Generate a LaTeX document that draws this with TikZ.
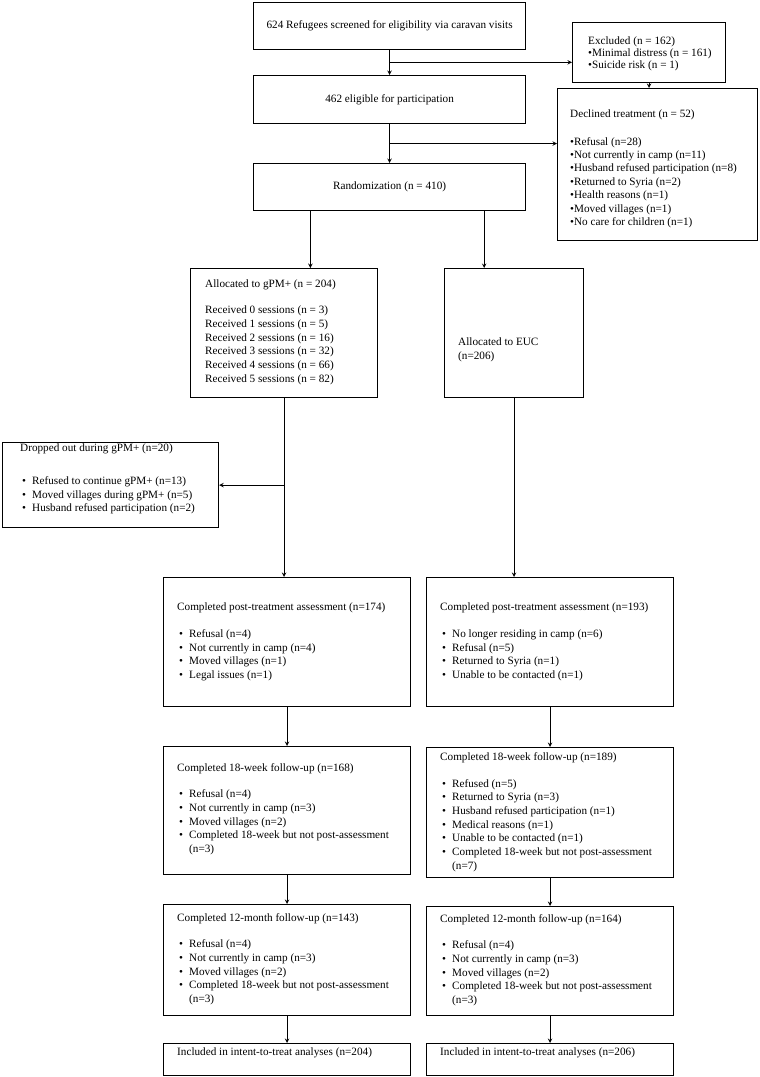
\documentclass[tikz,border=0pt]{standalone}
\usepackage{fontspec}
\setmainfont{Liberation Serif}
\usetikzlibrary{calc,positioning}

\newcommand{\itm}{\makebox[12pt][l]{\hspace{2pt}\textbullet}}
\newcommand{\hang}{\hspace*{12pt}}

\begin{document}
\begin{tikzpicture}[x=1pt,y=-1pt,>=stealth,
  box/.style={draw,line width=1.2pt,anchor=north west,inner sep=0pt,font=\fontsize{11.2}{13.7}\selectfont},
  txt/.style={anchor=west,align=left,inner sep=0pt,font=\fontsize{11.2}{13.7}\selectfont},
  link/.style={->,line width=1pt}]
  \useasboundingbox (0,0) rectangle (760,1077);

  % screening and enrolment
  \node[box,minimum width=272,minimum height=47] (screen) at (253,1.5) {624 Refugees screened for eligibility via caravan visits};
  \node[box,minimum width=153,minimum height=60] (excl) at (572,22) {};
  \node[txt,font=\fontsize{11.2}{11.7}\selectfont] (excl-t) at (588,54) {Excluded (n = 162)\\ \textbullet Minimal distress (n = 161)\\ \textbullet Suicide risk (n = 1)};
  \node[box,minimum width=272,minimum height=48] (elig) at (253,75) {462 eligible for participation};
  \node[box,minimum width=200,minimum height=152] (decl) at (557,88) {};
  \node[txt,font=\fontsize{11.2}{13.4}\selectfont] (decl-t) at (570,169) {Declined treatment (n = 52)\\[14pt]
    \textbullet Refusal (n=28)\\ \textbullet Not currently in camp (n=11)\\ \textbullet Husband refused participation (n=8)\\
    \textbullet Returned to Syria (n=2)\\ \textbullet Health reasons (n=1)\\ \textbullet Moved villages (n=1)\\ \textbullet No care for children (n=1)};
  \node[box,minimum width=272,minimum height=47] (rand) at (253,163) {Randomization (n = 410)};

  % allocation
  \node[box,minimum width=187,minimum height=129] (gpm) at (190,268) {};
  \node[txt] (gpm-t) at (205,332) {Allocated to gPM+ (n = 204)\\[13pt]
    Received 0 sessions (n = 3)\\ Received 1 sessions (n = 5)\\ Received 2 sessions (n = 16)\\
    Received 3 sessions (n = 32)\\ Received 4 sessions (n = 66)\\ Received 5 sessions (n = 82)};
  \node[box,minimum width=139,minimum height=129] (euc) at (444,268) {};
  \node[txt] (euc-t) at (458,350) {Allocated to EUC\\ (n=206)};
  \node[box,minimum width=216,minimum height=85] (drop) at (2,442) {};
  \node[txt] (drop-t) at (20,479) {Dropped out during gPM+ (n=20)\\[19pt]
    \itm Refused to continue gPM+ (n=13)\\ \itm Moved villages during gPM+ (n=5)\\ \itm Husband refused participation (n=2)};

  % follow-up
  \node[box,minimum width=247,minimum height=129] (postG) at (163,577) {};
  \node[txt] (postG-t) at (177,642) {Completed post-treatment assessment (n=174)\\[13pt]
    \itm Refusal (n=4)\\ \itm Not currently in camp (n=4)\\ \itm Moved villages (n=1)\\ \itm Legal issues (n=1)};
  \node[box,minimum width=247,minimum height=129] (postE) at (426,577) {};
  \node[txt] (postE-t) at (440,642) {Completed post-treatment assessment (n=193)\\[13pt]
    \itm No longer residing in camp (n=6)\\ \itm Refusal (n=5)\\ \itm Returned to Syria (n=1)\\ \itm Unable to be contacted (n=1)};

  \node[box,minimum width=247,minimum height=128] (w18G) at (163,746) {};
  \node[txt] (w18G-t) at (177,809) {Completed 18-week follow-up (n=168)\\[13pt]
    \itm Refusal (n=4)\\ \itm Not currently in camp (n=3)\\ \itm Moved villages (n=2)\\
    \itm Completed 18-week but not post-assessment\\ \hang(n=3)};
  \node[box,minimum width=247,minimum height=130] (w18E) at (426,747) {};
  \node[txt] (w18E-t) at (440,812) {Completed 18-week follow-up (n=189)\\[13pt]
    \itm Refused (n=5)\\ \itm Returned to Syria (n=3)\\ \itm Husband refused participation (n=1)\\
    \itm Medical reasons (n=1)\\ \itm Unable to be contacted (n=1)\\
    \itm Completed 18-week but not post-assessment\\ \hang(n=7)};

  \node[box,minimum width=247,minimum height=111] (m12G) at (163,904) {};
  \node[txt] (m12G-t) at (177,959) {Completed 12-month follow-up (n=143)\\[13pt]
    \itm Refusal (n=4)\\ \itm Not currently in camp (n=3)\\ \itm Moved villages (n=2)\\
    \itm Completed 18-week but not post-assessment\\ \hang(n=3)};
  \node[box,minimum width=247,minimum height=109] (m12E) at (426,906) {};
  \node[txt] (m12E-t) at (440,960) {Completed 12-month follow-up (n=164)\\[13pt]
    \itm Refusal (n=4)\\ \itm Not currently in camp (n=3)\\ \itm Moved villages (n=2)\\
    \itm Completed 18-week but not post-assessment\\ \hang(n=3)};

  \node[box,minimum width=247,minimum height=32] (inclG) at (163,1043) {};
  \node[txt] (inclG-t) at (177,1053) {Included in intent-to-treat analyses (n=204)};
  \node[box,minimum width=247,minimum height=32] (inclE) at (426,1043) {};
  \node[txt] (inclE-t) at (440,1053) {Included in intent-to-treat analyses (n=206)};

  % connectors
  \coordinate (s1) at ($(screen.south)!.5!(elig.north)$);
  \coordinate (s2) at ($(elig.south)!.5!(rand.north)$);
  \coordinate (r1) at ($(rand.south west)!.21!(rand.south east)$);
  \coordinate (r2) at ($(rand.south west)!.846!(rand.south east)$);

  \draw[link] (screen.south) -- (elig.north);
  \draw[link] (s1) -- (s1 -| excl.west);
  \draw[link] (excl.south) -- (excl.south |- decl.north);
  \draw[link] (elig.south) -- (rand.north);
  \draw[link] (s2) -- (s2 -| decl.west);
  \draw[link] (r1) -- (r1 |- gpm.north);
  \draw[link] (r2) -- (r2 |- euc.north);
  \draw[link] (gpm.south) -- (gpm.south |- postG.north);
  \draw[link] (gpm.south |- drop.east) -- (drop.east);
  \draw[link] (euc.south) -- (euc.south |- postE.north);
  \draw[link] (postG.south) -- (w18G.north);
  \draw[link] (postE.south) -- (w18E.north);
  \draw[link] (w18G.south) -- (m12G.north);
  \draw[link] (w18E.south) -- (m12E.north);
  \draw[link] (m12G.south) -- (inclG.north);
  \draw[link] (m12E.south) -- (inclE.north);
\end{tikzpicture}
\end{document}
